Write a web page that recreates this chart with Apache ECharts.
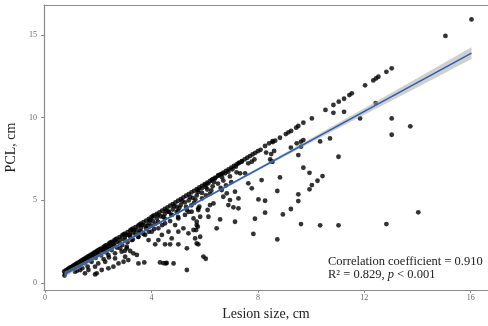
<!DOCTYPE html>
<html>
<head>
<meta charset="utf-8">
<script src="https://cdn.jsdelivr.net/npm/echarts@6/dist/echarts.min.js"></script>
<style>html,body{margin:0;padding:0;background:#fff}#c{width:488px;height:326px}</style>
</head>
<body>
<div id="c"></div>
<script>
// Lesion size (cm) vs PCL (cm)
const upperEdge = [[0.72,0.70],[0.78,0.76],[0.85,0.84],[0.9,0.88],[0.95,0.94],[1.0,0.98],[1.05,1.04],[1.1,1.08],[1.15,1.14],[1.2,1.19],[1.25,1.24],[1.3,1.28],[1.35,1.34],[1.4,1.39],[1.45,1.44],[1.5,1.48],[1.55,1.54],[1.6,1.59],[1.65,1.63],[1.7,1.69],[1.75,1.74],[1.8,1.78],[1.85,1.84],[1.9,1.89],[1.95,1.93],[2.0,1.99],[2.05,2.04],[2.1,2.08],[2.2,2.18],[2.25,2.24],[2.3,2.29],[2.4,2.38],[2.45,2.44],[2.5,2.49],[2.6,2.58],[2.65,2.64],[2.7,2.69],[2.8,2.78],[2.9,2.88],[2.95,2.94],[3.0,2.99],[3.1,3.08],[3.2,3.18],[3.25,3.24],[3.3,3.29],[3.4,3.38],[3.5,3.48],[3.55,3.54],[3.6,3.59],[3.7,3.68],[3.8,3.78],[3.9,3.88],[4.0,3.98],[4.05,4.04],[4.1,4.09],[4.2,4.18],[4.3,4.28],[4.4,4.38],[4.5,4.48],[4.6,4.58],[4.7,4.68],[4.8,4.78],[4.9,4.88],[5.0,4.98],[5.1,5.08],[5.2,5.18],[5.3,5.28],[5.4,5.38],[5.5,5.48],[5.6,5.58],[5.7,5.68],[5.8,5.78],[5.9,5.88],[6.0,5.98],[6.1,6.08],[6.2,6.18],[6.3,6.28],[6.4,6.38],[6.5,6.48],[6.6,6.57],[6.7,6.68],[6.8,6.78],[6.9,6.88],[7.0,6.98],[7.1,7.08],[7.2,7.18],[7.3,7.28],[7.4,7.38],[7.5,7.48],[7.6,7.58],[7.7,7.68],[7.8,7.78],[7.9,7.88],[8.0,7.98],[8.1,8.06],[8.27,8.29],[8.42,8.45],[8.55,8.58]];
const secondRow = [[0.85,0.78],[0.95,0.88],[1.05,0.97],[1.15,1.06],[1.25,1.15],[1.35,1.25],[1.45,1.34],[1.55,1.44],[1.65,1.53],[1.75,1.62],[1.85,1.71],[1.95,1.81],[2.05,1.90],[2.15,2.0],[2.25,2.08],[2.35,2.18],[2.45,2.27],[2.55,2.37],[2.7,2.5],[2.85,2.64],[3.0,2.78],[3.15,2.92],[3.3,3.06],[3.45,3.2],[3.6,3.33],[3.75,3.48],[3.9,3.62],[4.05,3.75],[4.2,3.9],[4.35,4.04],[4.5,4.18],[4.65,4.3],[4.8,4.45],[4.95,4.6],[5.1,4.72],[5.25,4.88],[5.4,5.0],[5.55,5.15],[5.7,5.3],[5.9,5.45],[6.1,5.66],[6.3,5.85],[6.5,6.02],[6.7,6.2],[6.95,6.45],[7.2,6.7]];
const thirdRow = [[1.0,0.86],[1.2,1.03],[1.4,1.2],[1.6,1.38],[1.8,1.56],[2.0,1.72],[2.2,1.9],[2.4,2.07],[2.6,2.25],[2.8,2.42],[3.0,2.6],[3.2,2.78],[3.4,2.95],[3.6,3.12],[3.8,3.3],[4.0,3.47],[4.25,3.7],[4.5,3.9],[4.75,4.12],[5.0,4.35],[5.3,4.6],[5.6,4.85],[5.9,5.12],[6.2,5.4],[6.6,5.75],[7.0,6.1]];
const fourthRow = [[1.1,0.86],[1.3,1.03],[1.5,1.2],[1.7,1.35],[1.9,1.52],[2.1,1.68],[2.3,1.85],[2.5,2.0],[2.7,2.15],[2.9,2.3],[3.1,2.47],[3.3,2.63],[3.5,2.8],[3.7,2.97],[3.9,3.1],[4.1,3.27],[4.4,3.5],[4.7,3.75],[5.0,4.0],[5.4,4.3],[5.8,4.62]];
const extraBand = [[2.15,2.05],[2.55,2.45],[3.05,2.9],[3.35,3.2],[3.65,3.5],[3.95,3.8],[4.25,4.1],[4.55,4.38],[4.85,4.65],[5.15,4.95],[5.45,5.2],[5.75,5.5],[6.05,5.8],[6.35,6.1],[6.65,6.4],[3.2,2.9],[3.85,3.45],[4.45,4.0],[5.05,4.55],[5.65,5.05],[6.25,5.6],[2.6,2.3],[3.55,3.05],[4.15,3.6],[4.95,4.3],[5.5,4.7],[6.05,5.3],[6.8,5.9],[2.3,1.95],[1.9,1.62]];
const lowerScatter = [[0.75,0.55],[0.73,0.45],[1.88,0.52],[1.50,0.59],[1.13,0.69],[2.13,0.79],[2.38,0.89],[2.57,0.99],[2.76,1.19],[2.95,1.29],[3.01,1.59],[2.63,1.49],[2.26,1.29],[2.00,1.19],[2.88,1.90],[2.63,1.80],[2.38,1.69],[3.07,2.20],[2.82,2.10],[2.51,2.20],[1.88,0.99],[1.63,0.79],[1.32,0.79],[1.75,1.29],[1.94,0.59],[1.2,0.75],[1.4,0.9],[1.6,1.0],[2.2,1.45],[2.4,1.55],[3.0,1.95],
  [5.33,0.79],[4.83,1.19],[4.54,1.19],[4.32,1.25],[3.73,1.25],[3.51,1.19],[3.13,1.39],[3.45,1.70],[3.32,1.80],[3.20,1.94],[3.07,2.10],[5.33,2.10],[5.70,2.40],[5.01,2.34],[4.70,2.34],[4.51,2.34],[4.14,2.34],[5.64,2.70],[5.39,3.01],[5.58,3.21],[5.70,3.51],[5.20,3.31],[5.01,3.11],[4.76,2.70],[4.26,2.60],[3.89,2.60],[4.39,2.91],[4.64,3.11],[4.89,3.51],[4.51,3.61],[4.26,3.31],[4.01,3.11],[3.76,2.91],[3.51,2.80],[3.26,2.60],[5.01,3.91],[5.26,4.12],[5.51,4.32],[5.33,4.42],[4.76,4.12],[4.64,4.32],[5.58,3.91],[5.76,4.52],[4.45,1.2],[4.57,1.22],
  [8.31,7.89],[8.50,7.80],[8.55,7.34],[7.87,7.48],[7.77,7.34],[7.64,7.24],[7.39,7.34],[7.27,7.24],[7.17,7.04],[7.04,6.88],[6.89,6.74],[6.77,6.64],[6.64,6.60],[6.52,6.53],[6.39,6.33],[6.27,6.23],[6.14,6.03],[6.02,5.93],[5.89,5.73],[5.76,5.63],[7.52,6.64],[7.33,6.64],[7.64,6.03],[8.14,6.23],[8.02,5.06],[8.27,4.98],[7.77,5.73],[7.14,5.53],[7.27,5.12],[6.95,5.02],[6.89,4.72],[7.08,4.58],[7.27,4.52],[7.89,3.89],[8.27,4.26],[6.58,3.85],[6.45,3.31],[7.14,3.71],[6.14,4.01],[6.11,4.42],[6.20,4.72],[6.33,4.82],[5.76,4.42],[5.83,4.01],[5.70,3.71],[5.74,3.41],[5.68,3.21],[5.83,2.80],[5.76,2.34],[5.95,1.60],[6.04,1.47],[7.83,2.97],[6.70,5.22],[6.83,5.43],[6.64,5.63]];
const upperRight = [[16.03,15.95],[15.05,14.95],[13.03,12.99],[12.83,12.78],[12.53,12.48],[12.44,12.38],[12.34,12.26],[12.03,11.96],[12.43,10.89],[11.84,9.96],[13.03,9.96],[13.73,9.48],[13.03,8.97],[14.03,4.28],[12.83,3.57],
  [11.53,11.48],[11.44,11.37],[11.24,11.15],[11.04,10.97],[10.84,10.77],[10.54,10.47],[10.84,10.30],[11.24,10.36],[10.03,9.96],[9.71,9.70],[9.52,9.50],[9.44,9.40],[9.25,9.20],[9.15,9.12],[9.05,9.01],[8.83,8.79],[8.65,8.61],[8.56,8.53],[9.71,8.65],[9.62,8.55],[9.46,8.45],[9.62,8.25],[9.24,8.19],[10.34,8.57],[10.71,8.75],[8.61,7.99],[9.52,7.74],[11.03,7.64],[8.52,7.34],[8.46,7.48],[9.71,6.98],[9.94,6.67],[10.43,6.47],[8.83,6.39],[10.24,6.19],[10.03,5.93],[9.94,5.67],[8.73,5.57],[9.52,5.37],[9.52,4.96],[9.24,4.48],[8.94,4.15],[9.62,3.57],[10.34,3.49],[11.03,3.49],[8.73,2.64]];
const points = [].concat(upperEdge, secondRow, thirdRow, fourthRow, extraBand, lowerScatter, upperRight);

// Fitted linear regression (as drawn) and its confidence band
const fitLine = [[0.73, 0.52], [16.03, 13.91]];
const bandX = [0.73, 2, 4, 6, 8, 10, 12, 14, 16.03];
const bandLow = [0.36, 1.52, 3.31, 5.07, 6.80, 8.50, 10.18, 11.85, 13.55];
const bandHigh = [0.68, 1.74, 3.45, 5.19, 6.96, 8.76, 10.58, 12.41, 14.27];

const xTicks = [0, 4, 8, 12, 16];
const yTicks = [0, 5, 10, 15];
const annotation1 = 'Correlation coefficient = 0.910';
const annotation2 = ['R² = 0.829, ', 'p', ' < 0.001'];

const chart = echarts.init(document.getElementById('c'), null, {renderer: 'canvas'});
const serif = '"Liberation Serif", "DejaVu Serif", serif';
const axisGrey = '#8c8c8c';

chart.setOption({
  animation: false,
  grid: {left: 44, top: 5, right: 0, bottom: 36, containLabel: false, outerBoundsMode: 'none'},
  xAxis: [{
    type: 'value', min: -0.04, max: 16.65,
    name: 'Lesion size, cm', nameLocation: 'middle', nameGap: 13,
    nameTextStyle: {fontFamily: serif, fontSize: 14, color: '#222'},
    axisLine: {show: true, onZero: false, lineStyle: {color: axisGrey, width: 1.2}},
    axisTick: {show: true, length: 3, customValues: xTicks, lineStyle: {color: axisGrey}},
    axisLabel: {customValues: xTicks, fontFamily: serif, fontSize: 8, color: '#666', margin: 4},
    splitLine: {show: false}
  }, {
    type: 'value', position: 'top', min: -0.04, max: 16.65,
    axisLine: {show: true, onZero: false, lineStyle: {color: axisGrey, width: 1.2}},
    axisTick: {show: false}, axisLabel: {show: false}, splitLine: {show: false}
  }],
  yAxis: {
    type: 'value', min: -0.42, max: 16.82,
    name: 'PCL, cm', nameLocation: 'middle', nameGap: 21,
    nameTextStyle: {fontFamily: serif, fontSize: 14, color: '#222'},
    axisLine: {show: true, onZero: false, lineStyle: {color: axisGrey, width: 1.2}},
    axisTick: {show: true, length: 3, customValues: yTicks, lineStyle: {color: axisGrey}},
    axisLabel: {customValues: yTicks, fontFamily: serif, fontSize: 8, color: '#666', margin: 7},
    splitLine: {show: false}
  },
  series: [{
    type: 'scatter', data: points, symbolSize: 4.8,
    itemStyle: {color: '#000'}, z: 2
  }, {
    type: 'custom', z: 3, silent: true,
    data: [0],
    renderItem: function (params, api) {
      const pts = [];
      for (let i = 0; i < bandX.length; i++) pts.push(api.coord([bandX[i], bandHigh[i]]));
      for (let i = bandX.length - 1; i >= 0; i--) pts.push(api.coord([bandX[i], bandLow[i]]));
      return {type: 'polygon', shape: {points: pts}, style: {fill: 'rgba(170,170,170,0.55)'}};
    }
  }, {
    type: 'line', data: fitLine, symbol: 'none', z: 4,
    lineStyle: {color: '#3060b0', width: 1.6}
  }],
  graphic: [{
    type: 'text', left: 328, top: 255,
    style: {text: annotation1, font: '12.5px ' + serif, fill: '#222'}
  }, {
    type: 'text', left: 328, top: 268,
    style: {
      text: annotation2[0] + '{i|' + annotation2[1] + '}' + annotation2[2],
      font: '12.5px ' + serif, fill: '#222',
      rich: {i: {fontStyle: 'italic', fontFamily: serif, fontSize: 12.5, fill: '#222'}}
    }
  }]
});
</script>
</body>
</html>
